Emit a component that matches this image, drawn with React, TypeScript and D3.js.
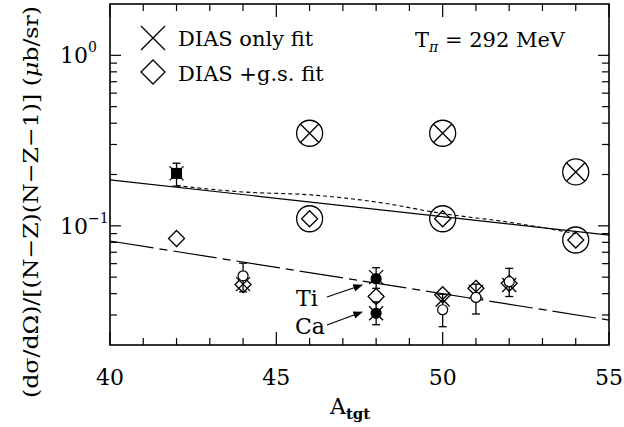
import React from "react";
import * as d3 from "d3";

// ---- data ----
const xTickLabels = [40, 45, 50, 55];
const yMajorTicks = [1, 0.1];

// measured points (A, value, error lo, error hi, filled)
const dataA = [42, 44, 48, 48, 50, 51, 52];
const dataVal = [0.203, 0.0509, 0.049, 0.0307, 0.0322, 0.038, 0.047];
const dataLo = [0.171, 0.041, 0.043, 0.0263, 0.0256, 0.0304, 0.0385];
const dataHi = [0.233, 0.0604, 0.0568, 0.0358, 0.0397, 0.0455, 0.0563];
const dataFilled = [true, false, true, true, false, false, false];

// DIAS only fit (x) at measured nuclei
const crossA = [42, 44, 48, 48, 50, 51, 52];
const crossVal = [0.203, 0.0455, 0.05, 0.0307, 0.037, 0.041, 0.045];

// DIAS + g.s. fit (diamond) at measured nuclei
const diamA = [42, 44, 48, 50, 51, 52];
const diamVal = [0.0843, 0.0453, 0.0385, 0.0394, 0.043, 0.046];

// predictions (circled symbols)
const predA = [46, 50, 54];
const predCross = [0.349, 0.349, 0.207];
const predDiam = [0.11, 0.11, 0.0826];

// curves
const solidA = [40, 55];
const solidV = [0.186, 0.0883];
const dashedA = [42, 44, 46, 48, 50, 52, 54];
const dashedV = [0.172, 0.158, 0.152, 0.138, 0.118, 0.105, 0.09];
const dashDotA = [40, 55];
const dashDotV = [0.0815, 0.028];

const FONT = "'DejaVu Serif', serif";

export default function App() {
  const W = 624, H = 427;
  const L = 110, R = 609, T = 4, B = 345;
  const x = d3.scaleLinear().domain([40, 55]).range([L, R]);
  const y = d3.scaleLog().domain([0.02, 2]).range([B, T]);

  const line = d3.line<[number, number]>().x(d => x(d[0])).y(d => y(d[1]));
  const curve = d3.line<[number, number]>().x(d => x(d[0])).y(d => y(d[1])).curve(d3.curveMonotoneX);

  const sw = 1.3;
  const cross = (cx: number, cy: number, s: number, key: string) => (
    <path key={key} d={`M${cx - s},${cy - s}L${cx + s},${cy + s}M${cx - s},${cy + s}L${cx + s},${cy - s}`} stroke="#000" strokeWidth={sw} fill="none" />
  );
  const diamond = (cx: number, cy: number, s: number, key: string) => (
    <path key={key} d={`M${cx},${cy - s}L${cx + s},${cy}L${cx},${cy + s}L${cx - s},${cy}Z`} stroke="#000" strokeWidth={sw} fill="none" />
  );

  // ticks
  const xTicks = d3.range(40, 56);
  const yTicks: { v: number; major: boolean }[] = [];
  [0.01, 0.1, 1].forEach(dec => {
    for (let k = 1; k <= 9; k++) {
      const v = dec * k;
      if (v > 0.0201 && v < 1.99) yTicks.push({ v, major: k === 1 });
    }
  });

  return (
    <svg width={W} height={H} style={{ position: "absolute", left: 0, top: 0 }} fontFamily={FONT}>
      <rect width={W} height={H} fill="#fff" />
      {/* frame */}
      <rect x={L} y={T} width={R - L} height={B - T} fill="none" stroke="#000" strokeWidth={1.6} />
      {/* x ticks */}
      {xTicks.map(t => {
        const len = t % 5 === 0 ? 13 : 7;
        return (
          <g key={"xt" + t}>
            <line x1={x(t)} x2={x(t)} y1={B} y2={B - len} stroke="#000" strokeWidth={1.2} />
            <line x1={x(t)} x2={x(t)} y1={T} y2={T + len} stroke="#000" strokeWidth={1.2} />
          </g>
        );
      })}
      {xTickLabels.map(t => (
        <text key={"xl" + t} x={x(t)} y={385} fontSize={22} textAnchor="middle">{t}</text>
      ))}
      {/* y ticks */}
      {yTicks.map((t, i) => {
        const len = t.major ? 11 : 7;
        return (
          <g key={"yt" + i}>
            <line x1={L} x2={L + len} y1={y(t.v)} y2={y(t.v)} stroke="#000" strokeWidth={1.2} />
            <line x1={R} x2={R - len} y1={y(t.v)} y2={y(t.v)} stroke="#000" strokeWidth={1.2} />
          </g>
        );
      })}
      {yMajorTicks.map(v => (
        <text key={"yl" + v} x={60} y={y(v) + 8} fontSize={22}>
          10<tspan fontSize={14} dy={-11}>{v === 1 ? "0" : "\u22121"}</tspan>
        </text>
      ))}
      {/* axis titles */}
      <text x={330} y={414} fontSize={22}>
        A<tspan fontSize={15} fontWeight="bold" dy={5}>tgt</tspan>
      </text>
      <text transform="translate(38,202) rotate(-90)" fontSize={21} textAnchor="middle" textLength={392} lengthAdjust="spacingAndGlyphs">
        (dσ/dΩ)/[(N−Z)(N−Z−1)] (<tspan fontStyle="italic">μ</tspan>b/sr)
      </text>

      {/* curves */}
      <path d={line(solidA.map((a, i) => [a, solidV[i]]))!} stroke="#000" strokeWidth={1.2} fill="none" />
      <path d={curve(dashedA.map((a, i) => [a, dashedV[i]]))!} stroke="#000" strokeWidth={1.1} strokeDasharray="4,3" fill="none" />
      <path d={line(dashDotA.map((a, i) => [a, dashDotV[i]]))!} stroke="#000" strokeWidth={1.2} strokeDasharray="44,6,8,6" fill="none" />

      {/* predictions */}
      {predA.map((a, i) => (
        <g key={"p" + i}>
          <circle cx={x(a)} cy={y(predCross[i])} r={13} stroke="#000" strokeWidth={sw} fill="none" />
          {cross(x(a), y(predCross[i]), 9, "pc" + i)}
          <circle cx={x(a)} cy={y(predDiam[i])} r={13} stroke="#000" strokeWidth={sw} fill="none" />
          {diamond(x(a), y(predDiam[i]), 8, "pd" + i)}
        </g>
      ))}

      {/* fit symbols */}
      {crossA.map((a, i) => cross(x(a), y(crossVal[i]), 7, "c" + i))}
      {diamA.map((a, i) => diamond(x(a), y(diamVal[i]), 8, "d" + i))}

      {/* data */}
      {dataA.map((a, i) => {
        const cx = x(a);
        return (
          <g key={"dt" + i}>
            <line x1={cx} x2={cx} y1={y(dataLo[i])} y2={y(dataHi[i])} stroke="#000" strokeWidth={1.3} />
            <line x1={cx - 4} x2={cx + 4} y1={y(dataLo[i])} y2={y(dataLo[i])} stroke="#000" strokeWidth={1.3} />
            <line x1={cx - 4} x2={cx + 4} y1={y(dataHi[i])} y2={y(dataHi[i])} stroke="#000" strokeWidth={1.3} />
            {i === 0 ? (
              <rect x={cx - 5.5} y={y(dataVal[i]) - 5.5} width={11} height={11} fill="#000" />
            ) : (
              <circle cx={cx} cy={y(dataVal[i])} r={5} stroke="#000" strokeWidth={1.2} fill={dataFilled[i] ? "#000" : "#fff"} />
            )}
          </g>
        );
      })}

      {/* Ti / Ca labels with arrows */}
      <defs>
        <marker id="ah" viewBox="0 0 10 10" refX="9" refY="5" markerWidth="8" markerHeight="8" orient="auto">
          <path d="M0,1L10,5L0,9Z" fill="#000" />
        </marker>
      </defs>
      <text x={296} y={306} fontSize={22}>Ti</text>
      <text x={295} y={334} fontSize={22}>Ca</text>
      <line x1={327} y1={297} x2={362} y2={285} stroke="#000" strokeWidth={1.2} markerEnd="url(#ah)" />
      <line x1={327} y1={325} x2={362} y2={312} stroke="#000" strokeWidth={1.2} markerEnd="url(#ah)" />

      {/* legend */}
      {cross(153, 38, 12, "lc")}
      {diamond(153, 72, 12, "ld")}
      <text x={178} y={46} fontSize={21}>DIAS only fit</text>
      <text x={178} y={81} fontSize={21}>DIAS +g.s. fit</text>
      <text x={415} y={47} fontSize={21}>
        T<tspan fontSize={14} dy={5} fontStyle="italic">π</tspan><tspan dy={-5}> = 292 MeV</tspan>
      </text>
    </svg>
  );
}
